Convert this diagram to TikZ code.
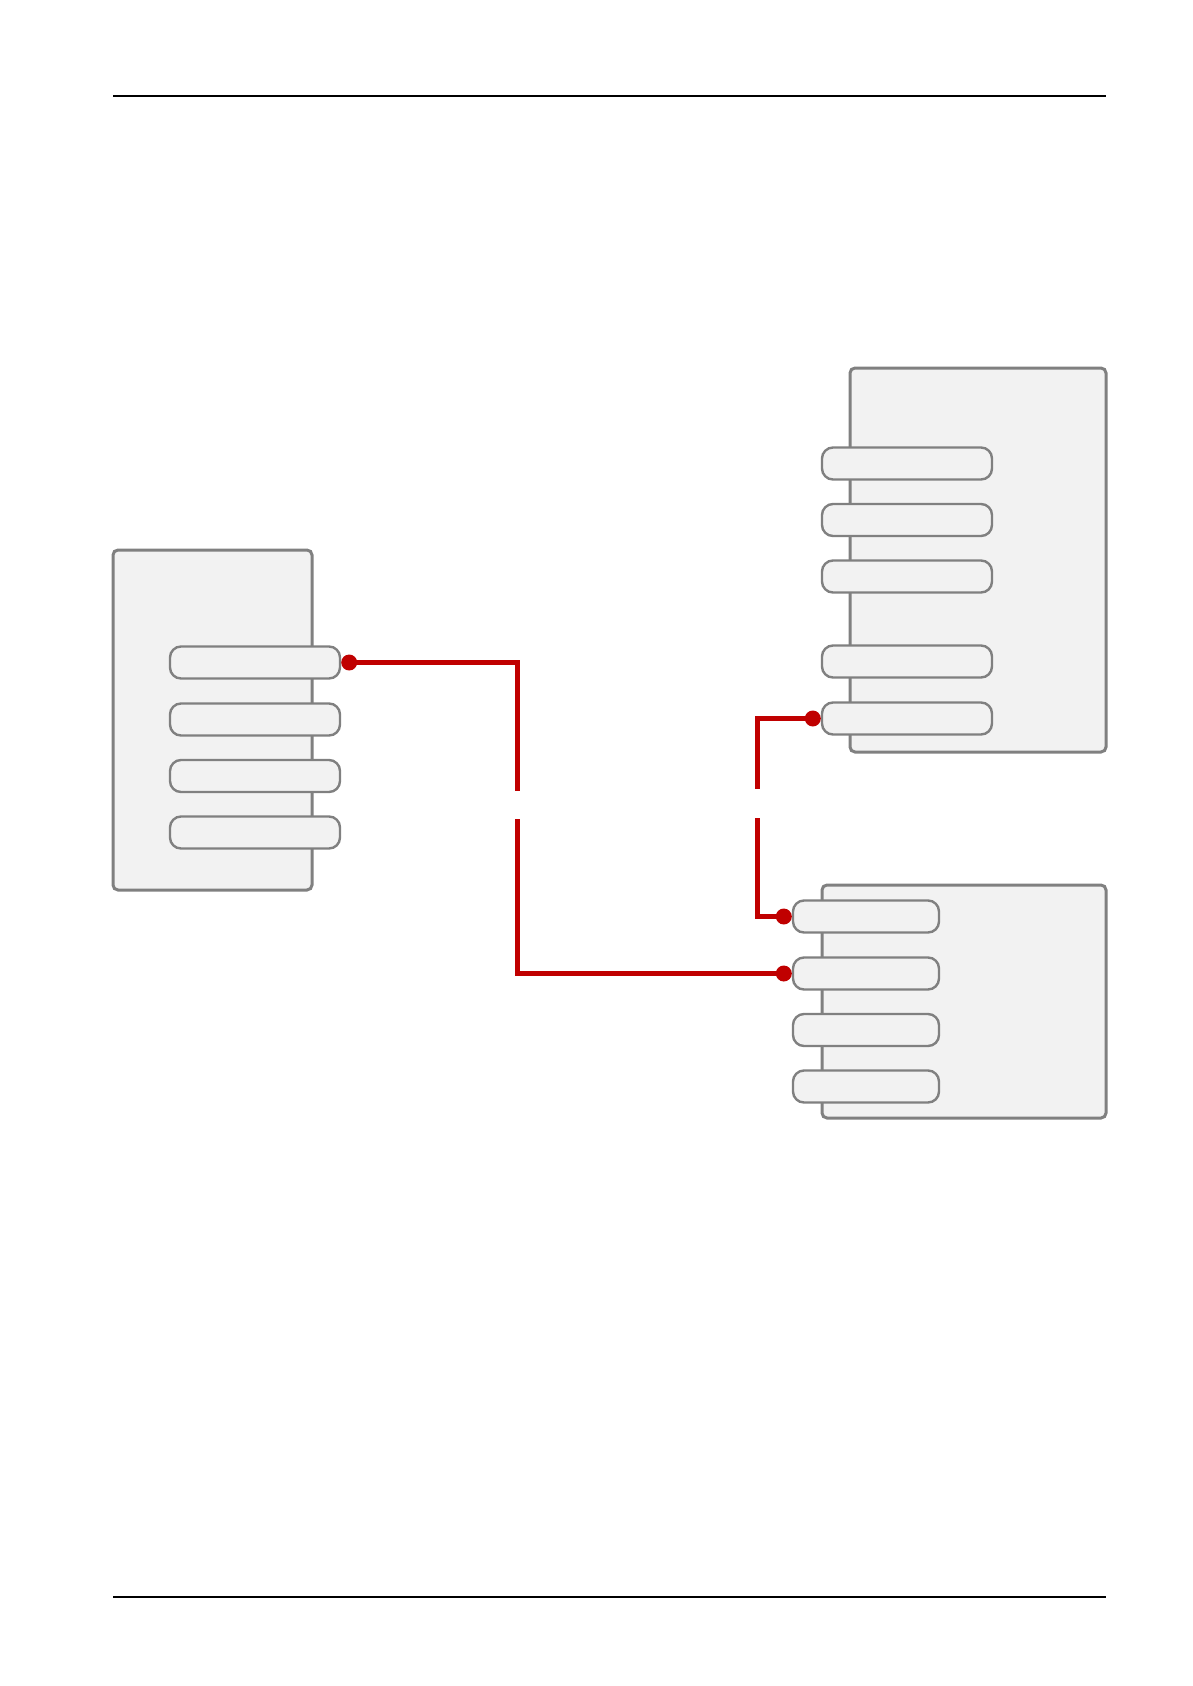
\documentclass[tikz,border=0pt]{standalone}
\definecolor{boxgray}{HTML}{808080}
\definecolor{boxfill}{HTML}{F2F2F2}
\definecolor{wire}{HTML}{C00000}
\tikzset{
  container/.style={draw=boxgray, fill=boxfill, line width=3pt, rounded corners=5pt, inner sep=0pt},
  port/.style={draw=boxgray, fill=boxfill, line width=2.4pt, rounded corners=11pt, inner sep=0pt, minimum height=32pt},
  wireline/.style={draw=wire, line width=5pt},
  pin/.style={circle, fill=wire, inner sep=0pt, minimum size=16pt},
  rulerline/.style={draw=black, line width=1.3pt}
}
\begin{document}
\begin{tikzpicture}[x=1pt,y=-1pt]
\useasboundingbox[fill=white] (0,0) rectangle (1193,1686);
% header / footer rules
\coordinate (h1) at (113,96); \coordinate (h2) at (1106,96);
\coordinate (f1) at (113,1597); \coordinate (f2) at (1106,1597);
\draw[rulerline] (h1) -- (h2);
\draw[rulerline] (f1) -- (f2);
% containers
\node[container, minimum width=199pt, minimum height=340pt] (L) at (212.5,720) {};
\node[container, minimum width=256pt, minimum height=384pt] (RT) at (978,560) {};
\node[container, minimum width=284pt, minimum height=233pt] (RB) at (964,1001.5) {};
% left ports
\foreach \i/\y in {1/662.5,2/719.5,3/776,4/832.5}
  \node[port, minimum width=170pt] (lp\i) at (255,\y) {};
% right top ports
\foreach \i/\y in {1/463.5,2/520,3/576.5,4/661.5,5/718.5}
  \node[port, minimum width=170pt] (rp\i) at (907,\y) {};
% right bottom ports
\foreach \i/\y in {1/916.5,2/973.5,3/1030,4/1086.5}
  \node[port, minimum width=146pt] (bp\i) at (866,\y) {};
% pins
\node[pin] (d1) at ([xshift=8pt]lp1.east) {};
\node[pin] (d2) at ([xshift=-8pt]rp5.west) {};
\node[pin] (d3) at ([xshift=-8pt]bp1.west) {};
\node[pin] (d4) at ([xshift=-8pt]bp2.west) {};
% gap coordinates
\coordinate (g1a) at (517,791);
\coordinate (g1b) at (517,819);
\coordinate (g2a) at (757,789);
\coordinate (g2b) at (757,818);
% wires
\draw[wireline] (d1.center) -| (g1a);
\draw[wireline] (g1b) |- (d4.center);
\draw[wireline] (d2.center) -| (g2a);
\draw[wireline] (g2b) |- (d3.center);
\end{tikzpicture}
\end{document}
